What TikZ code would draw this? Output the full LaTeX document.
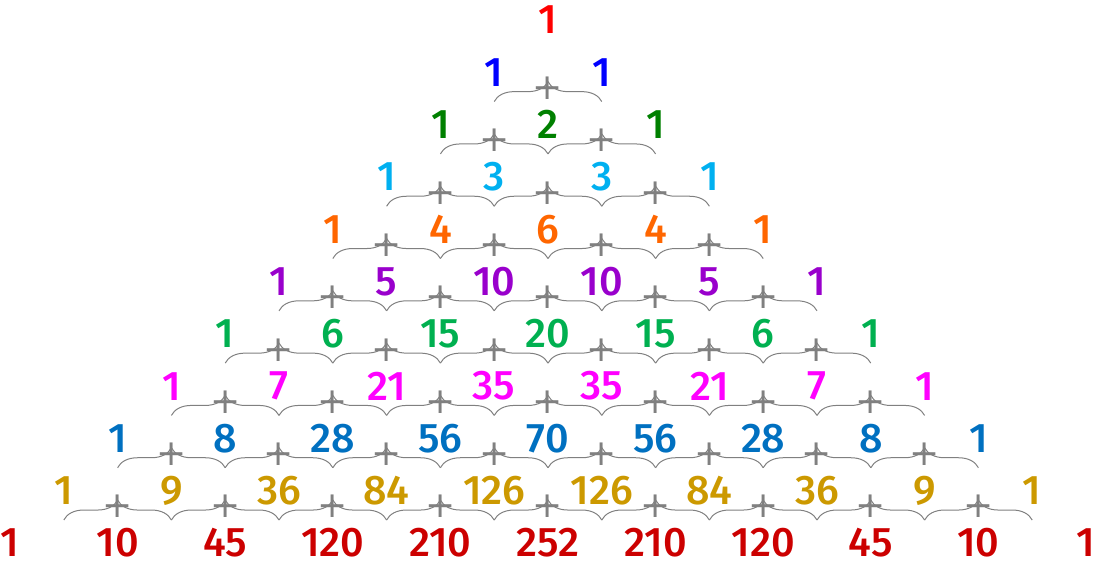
\documentclass[tikz,border=0pt]{standalone}
\usepackage{fontspec}
\setmainfont{Fira Sans}[BoldFont={Fira Sans Medium}]
\newfontfamily\plusfont{DejaVu Sans}
\usetikzlibrary{decorations.pathreplacing}

\definecolor{row0}{RGB}{255,0,0}
\definecolor{row1}{RGB}{0,0,255}
\definecolor{row2}{RGB}{0,128,0}
\definecolor{row3}{RGB}{0,176,240}
\definecolor{row4}{RGB}{255,102,0}
\definecolor{row5}{RGB}{153,0,204}
\definecolor{row6}{RGB}{0,176,80}
\definecolor{row7}{RGB}{255,0,255}
\definecolor{row8}{RGB}{0,112,192}
\definecolor{row9}{RGB}{204,153,0}
\definecolor{row10}{RGB}{204,0,0}

\tikzset{every picture/.style={line width=0.75pt}}
\tikzset{
  entry/.style={inner sep=0.75pt, font=\fontsize{31}{33}\selectfont\bfseries},
  addbrace/.style={draw={rgb, 255:red, 128; green, 128; blue, 128 }, line width=0.75pt, decorate, decoration={brace, amplitude=15pt}},
  plus/.style={text={rgb, 255:red, 128; green, 128; blue, 128 }, inner sep=0pt, yshift=10pt, font=\plusfont\fontsize{27}{29}\selectfont}
}

\begin{document}
\begin{tikzpicture}[x=0.75pt,y=0.75pt,yscale=-1,xscale=1]
\useasboundingbox (0,0) rectangle (1100,563);
% Number nodes
\foreach \n/\vals in {0/{1},1/{1,1},2/{1,2,1},3/{1,3,3,1},4/{1,4,6,4,1},5/{1,5,10,10,5,1},6/{1,6,15,20,15,6,1},7/{1,7,21,35,35,21,7,1},8/{1,8,28,56,70,56,28,8,1},9/{1,9,36,84,126,126,84,36,9,1},10/{1,10,45,120,210,252,210,120,45,10,1}}{
  \foreach \v [count=\j] in \vals {
    \pgfmathtruncatemacro{\k}{\j-1}
    \node [entry, text=row\n] (n\n-\k) at ({548+(2*\k-\n)*53.8},{20+52.3*\n}) {\v};
  }
}
% Braces with plus signs
\foreach \n in {1,...,9}{
  \pgfmathtruncatemacro{\last}{\n-1}
  \foreach \k in {0,...,\last}{
    \pgfmathtruncatemacro{\kk}{\k+1}
    \draw [addbrace] ([yshift=22pt]n\n-\k.center) -- ([yshift=22pt]n\n-\kk.center);
    \path ([yshift=22pt]n\n-\k.center) -- ([yshift=22pt]n\n-\kk.center) node [plus, midway] (p\n-\k) {+};
  }
}
\end{tikzpicture}
\end{document}
